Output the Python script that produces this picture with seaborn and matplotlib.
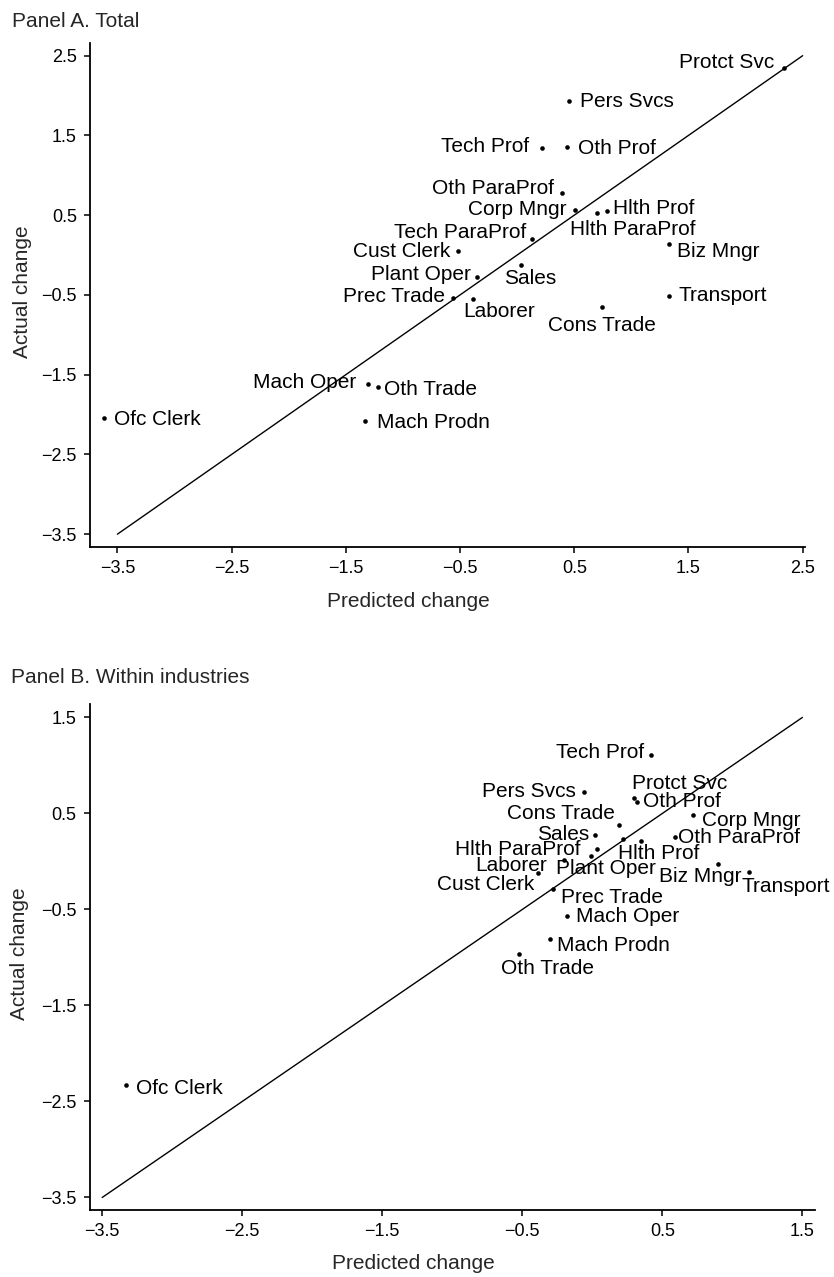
import matplotlib
matplotlib.use("Agg")
import matplotlib.pyplot as plt
import seaborn as sns
import pandas as pd

sns.set_style("ticks")
plt.rcParams['font.family'] = ['Liberation Sans', 'DejaVu Sans']

# Panel A. Total
occ_a = ["Protct Svc", "Pers Svcs", "Tech Prof", "Oth Prof", "Oth ParaProf",
         "Corp Mngr", "Hlth ParaProf", "Hlth Prof", "Tech ParaProf", "Biz Mngr",
         "Cust Clerk", "Sales", "Plant Oper", "Prec Trade", "Laborer",
         "Transport", "Cons Trade", "Mach Oper", "Oth Trade", "Mach Prodn",
         "Ofc Clerk"]
pred_a = [2.34, 0.45, 0.22, 0.44, 0.39,
          0.51, 0.70, 0.79, 0.13, 1.33,
          -0.52, 0.03, -0.35, -0.56, -0.39,
          1.33, 0.74, -1.31, -1.22, -1.33,
          -3.62]
actual_a = [2.35, 1.93, 1.34, 1.35, 0.78,
            0.57, 0.53, 0.55, 0.20, 0.14,
            0.05, -0.13, -0.27, -0.54, -0.55,
            -0.51, -0.65, -1.62, -1.66, -2.08,
            -2.04]

# Panel B. Within industries
occ_b = ["Tech Prof", "Pers Svcs", "Protct Svc", "Oth Prof", "Cons Trade",
         "Corp Mngr", "Sales", "Oth ParaProf", "Hlth Prof", "Tech ParaProf",
         "Biz Mngr", "Transport", "Mach Oper", "Mach Prodn", "Oth Trade",
         "Ofc Clerk", "Hlth ParaProf", "Plant Oper", "Laborer", "Cust Clerk",
         "Prec Trade"]
pred_b = [0.42, -0.06, 0.30, 0.32, 0.19,
          0.72, 0.02, 0.59, 0.22, 0.35,
          0.90, 1.12, -0.18, -0.30, -0.52,
          -3.33, 0.03, -0.01, -0.20, -0.39,
          -0.28]
actual_b = [1.11, 0.72, 0.66, 0.62, 0.38,
            0.48, 0.28, 0.25, 0.23, 0.21,
            -0.03, -0.11, -0.57, -0.81, -0.96,
            -2.33, 0.13, 0.06, 0.01, -0.12,
            -0.29]

# 45 degree reference lines
diag_a = [-3.5, 2.5]
diag_b = [-3.5, 1.5]
ticks_a = [-3.5, -2.5, -1.5, -0.5, 0.5, 1.5, 2.5]
ticks_b = [-3.5, -2.5, -1.5, -0.5, 0.5, 1.5]

# label placement: (ha, dx px, dy px)
place_a = {
    "Protct Svc": ("right", -10, 5), "Pers Svcs": ("left", 11, 0),
    "Tech Prof": ("right", -13, 2), "Oth Prof": ("left", 11, -1),
    "Oth ParaProf": ("right", -8, 4), "Corp Mngr": ("right", -9, 0),
    "Hlth ParaProf": ("left", -27, -17), "Hlth Prof": ("left", 6, 3),
    "Tech ParaProf": ("right", -6, 7), "Biz Mngr": ("left", 8, -8),
    "Cust Clerk": ("right", -7, 0), "Sales": ("center", 10, -13),
    "Plant Oper": ("right", -6, 2), "Prec Trade": ("right", -8, 2),
    "Laborer": ("center", 27, -13), "Transport": ("left", 9, 0),
    "Cons Trade": ("center", 0, -19), "Mach Oper": ("right", -11, 2),
    "Oth Trade": ("left", 6, -2), "Mach Prodn": ("left", 12, -2),
    "Ofc Clerk": ("left", 10, -2),
}
place_b = {
    "Tech Prof": ("right", -7, 2), "Pers Svcs": ("right", -8, 1),
    "Protct Svc": ("left", -2, 15), "Oth Prof": ("left", 6, 0),
    "Cons Trade": ("right", -4, 11), "Corp Mngr": ("left", 9, -5),
    "Sales": ("right", -6, 0), "Oth ParaProf": ("left", 3, 0),
    "Hlth Prof": ("left", -5, -14), "Biz Mngr": ("center", -18, -12),
    "Transport": ("left", -8, -14), "Mach Oper": ("left", 9, 0),
    "Mach Prodn": ("left", 7, -6), "Oth Trade": ("center", 28, -15),
    "Ofc Clerk": ("left", 10, -3), "Hlth ParaProf": ("right", -16, -1),
    "Plant Oper": ("left", -35, -13), "Laborer": ("right", -17, -5),
    "Cust Clerk": ("right", -3, -12), "Prec Trade": ("left", 8, -8),
}


def draw_panel(ax, df, place, diag, ticks, xlim, ylim, xlab_y, ylab_x):
    ax.plot(diag, diag, color='black', lw=1.0)
    sns.scatterplot(data=df, x='pred', y='actual', ax=ax, color='black',
                    s=11, linewidth=0, legend=False)
    for _, row in df.iterrows():
        if row['occ'] not in place:
            continue
        ha, dx, dy = place[row['occ']]
        ax.annotate(row['occ'], (row['pred'], row['actual']), xytext=(dx, dy),
                    textcoords='offset pixels', ha=ha, va='center',
                    fontsize=15, color='black')
    ax.set_xlim(*xlim)
    ax.set_ylim(*ylim)
    ax.set_xticks(ticks)
    ax.set_yticks(ticks)
    ax.tick_params(direction='out', length=4.5, width=1.1, labelsize=13,
                   pad=5, colors='black')
    for s in ['top', 'right']:
        ax.spines[s].set_visible(False)
    for s in ['left', 'bottom']:
        ax.spines[s].set_linewidth(1.3)
        ax.spines[s].set_color('black')
    ax.set_xlabel("Predicted change", fontsize=15)
    ax.set_ylabel("Actual change", fontsize=15)
    ax.xaxis.label.set_va('center')
    ax.yaxis.label.set_va('center')
    ax.xaxis.set_label_coords(0.446, xlab_y)
    ax.yaxis.set_label_coords(ylab_x, 0.506)


fig = plt.figure(figsize=(8.34, 12.77), dpi=100)

df_a = pd.DataFrame({'occ': occ_a, 'pred': pred_a, 'actual': actual_a})
df_b = pd.DataFrame({'occ': occ_b, 'pred': pred_b, 'actual': actual_b})

ax_a = fig.add_axes([0.1079, 0.5717, 0.8573, 0.3947])
draw_panel(ax_a, df_a, place_a, diag_a, ticks_a, (-3.74, 2.52), (-3.66, 2.66),
           -0.109, -0.094)

ax_b = fig.add_axes([0.1074, 0.0525, 0.8698, 0.3962])
draw_panel(ax_b, df_b, place_b, diag_b, ticks_b, (-3.59, 1.59), (-3.63, 1.64),
           -0.105, -0.096)

fig.text(12 / 834, 1 - 27 / 1277, "Panel A. Total", fontsize=15, va='baseline')
fig.text(11 / 834, 1 - 683 / 1277, "Panel B. Within industries", fontsize=15,
         va='baseline')

fig.savefig("out.png", dpi=100)
